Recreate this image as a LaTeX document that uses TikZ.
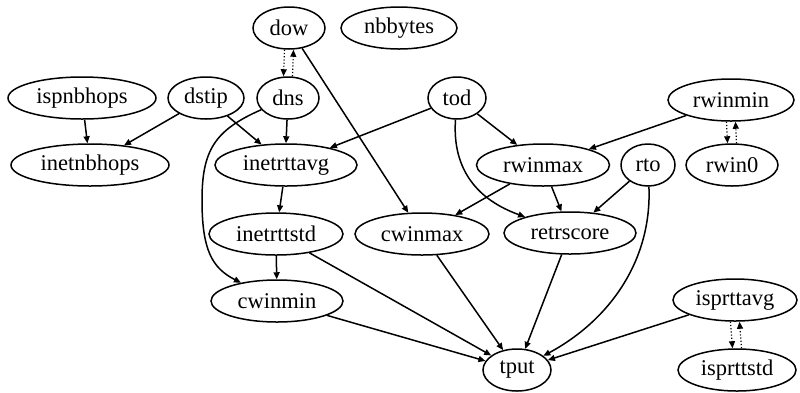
\documentclass[tikz,border=0pt]{standalone}
\usepackage{fontspec}
\setmainfont{Liberation Serif}
\usetikzlibrary{shapes.geometric,arrows.meta}
\begin{document}
\begin{tikzpicture}[x=1pt,y=-1pt,
  gnode/.style={draw,ellipse,line width=1.5pt,inner sep=0pt,minimum height=42pt,
    font=\fontsize{22.5}{26}\selectfont},
  edge/.style={line width=1.5pt,-{Triangle[length=7pt,width=6pt]}},
  dotedge/.style={line width=1.2pt,dotted,-{Triangle[length=7pt,width=6pt]}}]
\useasboundingbox (0,0) rectangle (800,392);
% rank 0
\node[gnode,minimum width=72pt]  (dow)     at (289,28) {dow};
\node[gnode,minimum width=116pt] (nbbytes) at (399,28) {nbbytes};
% rank 1
\node[gnode,minimum width=148pt] (ispnbhops) at (82,98) {ispnbhops};
\node[gnode,minimum width=76pt]  (dstip)     at (206,98) {dstip};
\node[gnode,minimum width=62pt]  (dns)       at (288,98) {dns};
\node[gnode,minimum width=58pt]  (tod)       at (457,98) {tod};
\node[gnode,minimum width=126pt] (rwinmin)   at (731,100) {rwinmin};
% rank 2
\node[gnode,minimum width=158pt] (inetnbhops) at (90,165) {inetnbhops};
\node[gnode,minimum width=142pt] (inetrttavg) at (286,165) {inetrttavg};
\node[gnode,minimum width=133pt] (rwinmax)    at (543,165) {rwinmax};
\node[gnode,minimum width=54pt]  (rto)        at (648,165) {rto};
\node[gnode,minimum width=92pt]  (rwin0)      at (732,165) {rwin0};
% rank 3
\node[gnode,minimum width=134pt] (inetrttstd) at (276,234) {inetrttstd};
\node[gnode,minimum width=134pt] (cwinmax)    at (422,234) {cwinmax};
\node[gnode,minimum width=132pt] (retrscore)  at (570,233) {retrscore};
% rank 4
\node[gnode,minimum width=132pt] (cwinmin)   at (277,301) {cwinmin};
\node[gnode,minimum width=124pt] (isprttavg) at (735,300) {isprttavg};
% rank 5
\node[gnode,minimum width=68pt]  (tput)      at (517,370) {tput};
\node[gnode,minimum width=118pt] (isprttstd) at (737,370) {isprttstd};
% dotted pairs
\draw[dotedge] ([xshift=-4.5pt]dow.south) -- ([xshift=-4.5pt]dns.north);
\draw[dotedge] ([xshift=4.5pt]dns.north) -- ([xshift=4.5pt]dow.south);
\draw[dotedge] ([xshift=-4.5pt]rwinmin.south) -- ([xshift=-4.5pt]rwin0.north);
\draw[dotedge] ([xshift=4.5pt]rwin0.north) -- ([xshift=4.5pt]rwinmin.south);
\draw[dotedge] ([xshift=-4.5pt]isprttavg.south) -- ([xshift=-4.5pt]isprttstd.north);
\draw[dotedge] ([xshift=4.5pt]isprttstd.north) -- ([xshift=4.5pt]isprttavg.south);
% edges
\draw[edge] (dow) -- (cwinmax);
\draw[edge] (ispnbhops) -- (inetnbhops);
\draw[edge] (dstip) -- (inetnbhops);
\draw[edge] (dstip) -- (inetrttavg);
\draw[edge] (dns) -- (inetrttavg.north);
\draw[edge] (dns) .. controls (215,130) and (202,150) .. (202,200)
  .. controls (202,250) and (212,268) .. (cwinmin);
\draw[edge] (tod) -- (inetrttavg);
\draw[edge] (tod) -- (rwinmax);
\draw[edge] (tod) .. controls (452,170) and (478,200) .. (retrscore);
\draw[edge] (rwinmin) -- (rwinmax);
\draw[edge] (inetrttavg) -- (inetrttstd);
\draw[edge] (inetrttstd) -- (cwinmin);
\draw[edge] (inetrttstd) -- (tput);
\draw[edge] (rwinmax) -- (cwinmax);
\draw[edge] (rwinmax) -- (retrscore);
\draw[edge] (rto) -- (retrscore);
\draw[edge] (rto) .. controls (652,260) and (610,320) .. (tput);
\draw[edge] (cwinmax) -- (tput);
\draw[edge] (retrscore) -- (tput);
\draw[edge] (cwinmin) -- (tput);
\draw[edge] (isprttavg) -- (tput);
\end{tikzpicture}
\end{document}
